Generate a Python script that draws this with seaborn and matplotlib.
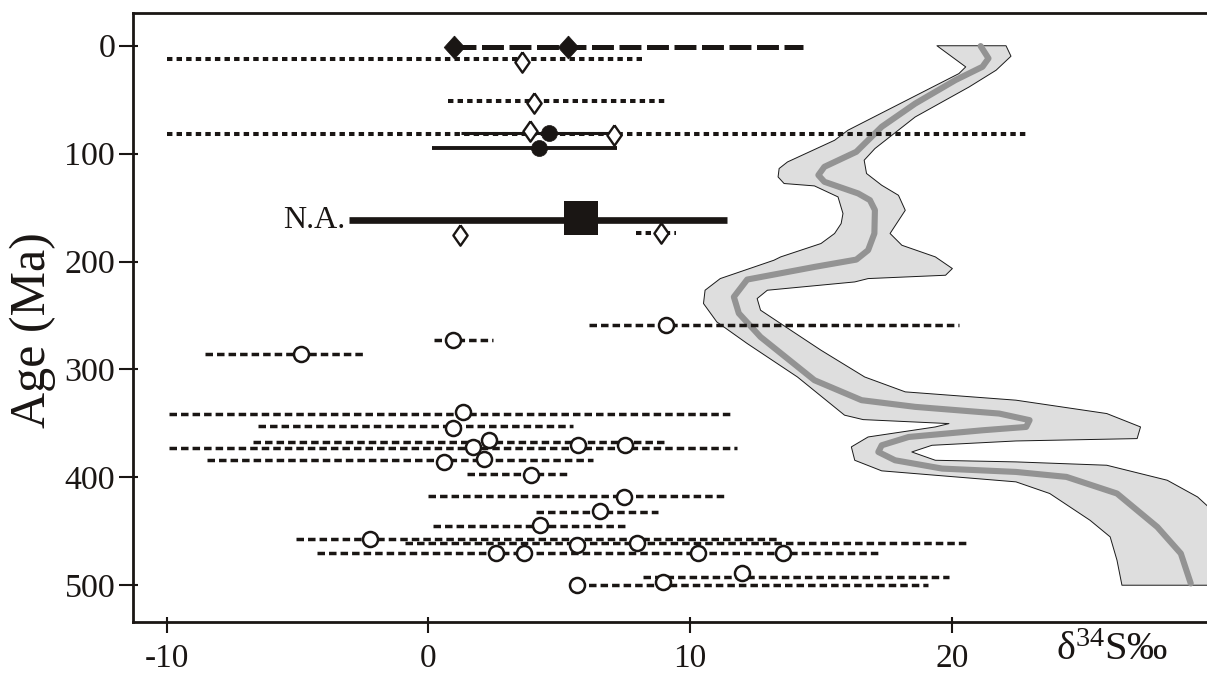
import numpy as np
import matplotlib
matplotlib.use("Agg")
import matplotlib.pyplot as plt
import seaborn as sns
from matplotlib.ticker import FixedLocator

sns.set_theme(style="white")
plt.rcParams["font.family"] = ["Liberation Serif", "DejaVu Serif"]
plt.rcParams["mathtext.fontset"] = "custom"
plt.rcParams["mathtext.rm"] = "Liberation Serif"
plt.rcParams["mathtext.default"] = "regular"
plt.rcParams["lines.scale_dashes"] = False

# ---------------------------------------------------------------------------
# data (delta34S in permil, age in Ma)
# ---------------------------------------------------------------------------
# range bars: x start, x end, age
longdash_x0 = [0.97]
longdash_x1 = [14.3]
longdash_age = [1]

dotted_x0 = [-10.0, 0.74, -10.0, 7.94]
dotted_x1 = [8.18, 9.13, 22.9, 9.47]
dotted_age = [12.5, 51, 81.4, 174]

solid_x0 = [1.26, 0.15]
solid_x1 = [7.15, 7.22]
solid_age = [81, 95]

na_x0 = [-3.05]
na_x1 = [11.4]
na_age = [161.6]

dashed_x0 = [6.13, 0.21, -8.54, -9.93, -6.52, -6.7, -9.93, -8.47, 1.49, 0.0,
             4.12, 0.19, -5.06, -0.9, -4.24, 8.2, 5.66]
dashed_x1 = [20.27, 2.45, -2.52, 11.6, 5.52, 9.04, 11.78, 6.3, 5.38, 11.4,
             8.78, 7.64, 13.4, 20.6, 17.3, 19.9, 19.1]
dashed_age = [258.4, 273, 286, 340.9, 352.6, 367, 372.4, 383.5, 397, 417.5,
              432.3, 445.3, 457.4, 461, 470.6, 492.3, 500]

# point symbols
fdiam_x = [0.97, 5.34]
fdiam_age = [1, 1]

odiam_x = [3.57, 4.02, 3.88, 7.09, 1.19, 8.88]
odiam_age = [15, 53, 79, 83, 175.6, 174]

fcirc_x = [4.59, 4.22]
fcirc_age = [80.8, 95]

square_x = [5.83]
square_age = [160]

ocirc_x = [9.06, 0.92, -4.88,
           1.31, 0.92, 2.33, 1.7, 5.73, 7.5,
           0.58, 2.14, 3.9, 7.49, 6.57, 4.25,
           -2.22, 5.68, 7.97, 2.58, 3.65, 10.3, 13.56,
           5.66, 8.95, 12.0]
ocirc_age = [258.4, 273, 286,
             339, 353.9, 365.6, 372, 370, 369.6,
             385.7, 383, 398, 418, 431.4, 443.8,
             457.4, 462.5, 461, 470.6, 469.7, 470, 470.6,
             499.5, 497.3, 489]

# seawater sulfate curve: envelope and central line
env_left_x = [19.43, 20.53, 20.27, 16.03, 15.52, 13.72, 13.4, 13.36, 13.59, 14.75,
              15.65, 15.84, 15.77, 15.52, 15.0, 13.46, 13.2, 11.15, 10.57, 10.51,
              11.02, 12.18, 14.1, 15.9, 16.61, 19.89, 19.37, 16.8, 16.16, 16.29,
              17.32, 22.45, 23.74, 25.28, 26.05, 26.31, 26.5]
env_left_age = [0, 19.6, 25.8, 78.3, 87.6, 107.7, 113.8, 121.6, 127.7, 129.9,
                140.1, 155.5, 164.8, 174, 183.3, 195.7, 198.8, 215.8, 226.6, 238.9,
                256, 276, 307, 342.4, 346.5, 350.2, 353.3, 362.6, 371.8, 384.2,
                394, 404.2, 415, 439.8, 455.2, 476.8, 500]
env_right_x = [22.07, 22.26, 21.69, 20.66, 18.6, 17.06, 16.65, 16.74, 17.32, 17.96,
               18.22, 17.64, 18.09, 19.37, 20.02, 19.76, 16.8, 16.29, 12.95, 12.56,
               12.69, 13.46, 15.0, 16.67, 18.22, 22.45, 25.92, 27.21, 27.08, 22.45,
               19.24, 18.47, 19.37, 22.45, 25.92, 28.23, 29.39, 30.6, 31.5, 32.0]
env_right_age = [0, 9.7, 22.7, 38.2, 66, 95.3, 106.1, 118.4, 129.3, 138.6,
                 152.5, 174, 184.9, 195.7, 206.5, 212.7, 215.8, 218.9, 226.6, 234.3,
                 245.1, 257.5, 282.2, 307, 320.8, 328.5, 340.9, 353.3, 364.1, 366.3,
                 370.3, 376.5, 384.2, 385.7, 388.8, 402.7, 418.2, 445, 475, 500]

curve_x = [21.1, 21.4, 21.17, 20.14, 18.6, 17.32, 16.35, 15.13, 14.9, 15.13,
           16.42, 16.87, 17.06, 17.04, 16.8, 16.35, 14.75, 12.18, 11.67, 11.86,
           12.69, 14.75, 16.55, 18.6, 21.81, 22.97, 22.84, 21.17, 18.35, 17.32,
           17.19, 17.83, 19.63, 22.45, 24.38, 26.31, 27.85, 28.75, 29.13]
curve_age = [0.3, 11.7, 19.5, 31.8, 53.6, 75.1, 98.3, 112.2, 119.9, 126.1,
             136.9, 143.1, 152.3, 174, 189.5, 198.2, 205, 216.7, 232.8, 248,
             269.9, 310, 328.5, 334.7, 340.9, 347, 353.3, 356.4, 362.6, 370.3,
             376.5, 384.2, 391.9, 395, 399.6, 415, 446, 470.6, 498.4]

x_ticks = [-10, 0, 10, 20]
y_ticks = [0, 100, 200, 300, 400, 500]

# ---------------------------------------------------------------------------
# figure
# ---------------------------------------------------------------------------
fig = plt.figure(figsize=(12.07, 6.77), dpi=100)
ax = fig.add_axes([0.1104, 0.0817, 0.8896, 0.8995])

# envelope band
band_x = env_left_x + env_right_x[::-1]
band_y = env_left_age + env_right_age[::-1]
ax.fill(band_x, band_y, facecolor="#dedede", edgecolor="#1a1a1a", linewidth=0.7,
        joinstyle="round", zorder=1)
sns.lineplot(x=curve_x, y=curve_age, sort=False, estimator=None, color="#939393",
             linewidth=4.4, ax=ax, zorder=2, solid_joinstyle="round",
             solid_capstyle="round")

# range bars
ax.hlines(longdash_age, longdash_x0, longdash_x1, colors="#1a1614", linewidth=3.6,
          linestyles=[(0, (15.8, 4.0))], zorder=3)
ax.hlines(dotted_age, dotted_x0, dotted_x1, colors="#1a1614", linewidth=2.9,
          linestyles=[(0, (3.9, 3.0))], zorder=3)
ax.hlines(solid_age, solid_x0, solid_x1, colors="#1a1614", linewidth=[2.2, 2.8], zorder=3)
ax.hlines(na_age, na_x0, na_x1, colors="#1a1614", linewidth=4.8, zorder=3)
ax.hlines(dashed_age, dashed_x0, dashed_x1, colors="#1a1614", linewidth=2.5,
          linestyles=[(0, (5.4, 2.9))], zorder=3)

# symbols
diam_fat = [(0, 1), (0.9, 0), (0, -1), (-0.9, 0), (0, 1)]
diam_thin = [(0, 1), (0.7, 0), (0, -1), (-0.7, 0), (0, 1)]

sns.scatterplot(x=ocirc_x, y=ocirc_age, marker="o", s=117, color="white",
                edgecolor="#1a1614", linewidth=1.8, ax=ax, zorder=5)
sns.scatterplot(x=odiam_x, y=odiam_age, marker=diam_thin, s=215, color="white",
                edgecolor="#1a1614", linewidth=1.7, ax=ax, zorder=5)
sns.scatterplot(x=fdiam_x, y=fdiam_age, marker=diam_fat, s=272, color="#1a1614",
                edgecolor="#1a1614", linewidth=0.5, ax=ax, zorder=5)
sns.scatterplot(x=fcirc_x, y=fcirc_age, marker="o", s=132, color="#1a1614",
                edgecolor="#1a1614", linewidth=0.5, ax=ax, zorder=5)
sns.scatterplot(x=square_x, y=square_age, marker="s", s=590, color="#1a1614",
                edgecolor="#1a1614", linewidth=0, ax=ax, zorder=5)

ax.text(-3.19, 169.3, "N.A.", fontsize=23, ha="right", va="baseline", color="#1a1614")

# axes
ax.set_xlim(-11.28, 29.75)
ax.set_ylim(533.8, -30.6)
ax.set_xlabel("")
ax.set_ylabel("")

ax.set_xticks(x_ticks)
ax.set_xticklabels(["-10", "0", "10", "20"])
ax.set_yticks(y_ticks)
ax.xaxis.set_minor_locator(FixedLocator(x_ticks))
ax.yaxis.set_minor_locator(FixedLocator(y_ticks))
ax.xaxis.remove_overlapping_locs = False
ax.yaxis.remove_overlapping_locs = False

ax.tick_params(axis="y", which="major", direction="out", length=10, width=1.5,
               labelsize=24.5, pad=3, colors="#1a1614")
ax.tick_params(axis="x", which="major", direction="out", length=8, width=1.5,
               labelsize=24, pad=8, colors="#1a1614")
ax.tick_params(which="minor", direction="in", length=3.6, width=1.5, colors="#1a1614")
ax.tick_params(left=True, bottom=True, which="both")

for side in ["left", "bottom", "top"]:
    ax.spines[side].set_linewidth(2.0)
    ax.spines[side].set_color("#1a1614")
ax.spines["right"].set_visible(False)
ax.grid(False)

fig.text(33 / 1207, 1 - 330 / 677, "Age (Ma)", rotation=90, fontsize=36,
         ha="center", va="center", color="#1a1614")
fig.text(1112 / 1207, 1 - 651 / 677, r"$δ^{34}$S‰", fontsize=29,
         ha="center", va="center", color="#1a1614")

fig.savefig("out.png", dpi=100, facecolor="white")
